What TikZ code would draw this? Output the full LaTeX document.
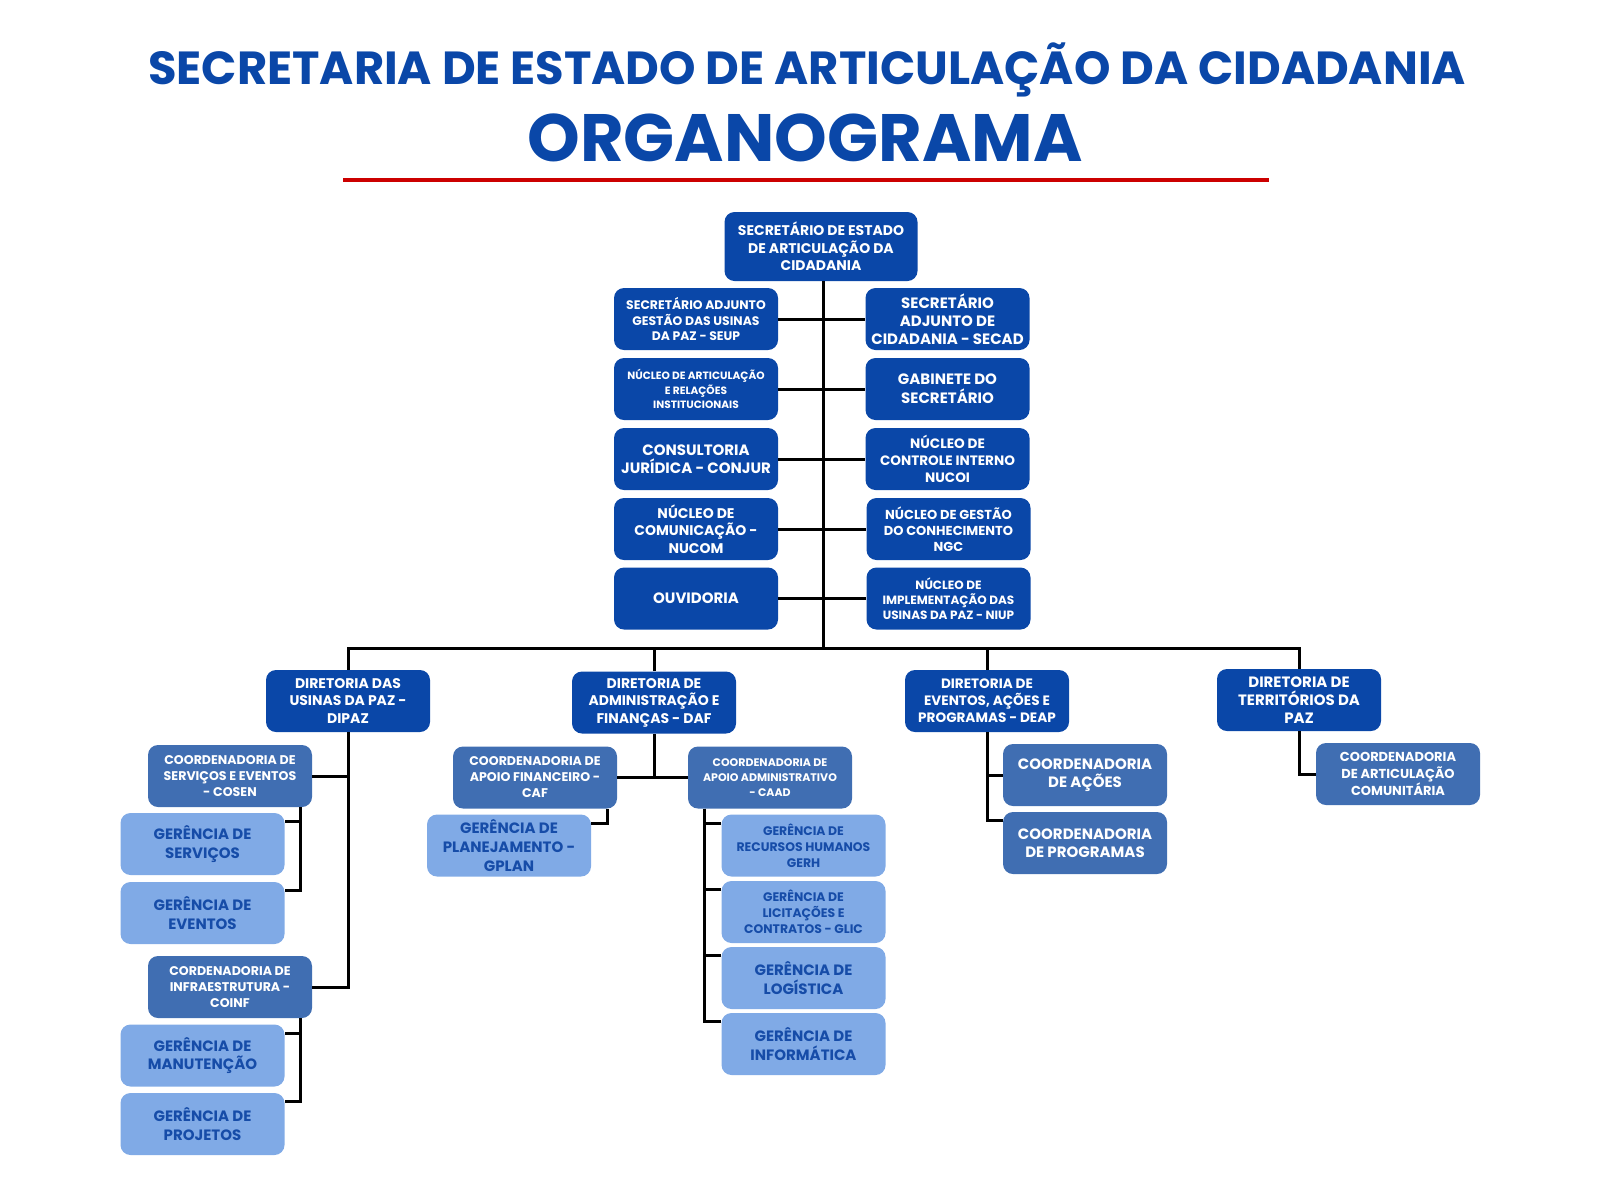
\documentclass[tikz,border=0pt]{standalone}
\usepackage{fontspec}
\setmainfont{Poppins}
\usepackage{tikz}
\definecolor{azulesc}{RGB}{10,71,168}
\definecolor{azulmed}{RGB}{64,110,178}
\definecolor{azulcla}{RGB}{128,170,230}
\definecolor{textocla}{RGB}{22,76,168}
\definecolor{vermelho}{RGB}{204,0,0}
\newcommand*{\fs}[2]{\fontsize{#1}{#2}\selectfont}

\begin{document}
\begin{tikzpicture}[x=0.5pt, y=-0.5pt,
    caixa/.style={rounded corners=5pt, minimum width=82pt, minimum height=31pt,
      inner sep=1pt, align=center, font=\bfseries\fs{7}{8.7}},
    dir/.style={caixa, fill=azulesc, text=white},
    coord/.style={caixa, fill=azulmed, text=white},
    ger/.style={caixa, fill=azulcla, text=textocla, font=\bfseries\fs{7.5}{9.3}},
    liga/.style={line width=1.5pt}]
  \useasboundingbox (0,0) rectangle (1600,1200);

  % titulo
  \node[text=azulesc, font=\bfseries\fs{23.2}{24}] (titulo) at (807,70)
    {SECRETARIA DE ESTADO DE ARTICULAÇÃO DA CIDADANIA};
  \node[text=azulesc, font=\bfseries\fs{33.5}{34}] (organo) at (805,138) {ORGANOGRAMA};
  \draw[vermelho, line width=2pt] (343,180) -- (1269,180);

  % secretario e orgaos de apoio
  \node[dir, minimum width=96.5pt, minimum height=34.5pt] (sec) at (821,246.5)
    {SECRETÁRIO DE ESTADO\\DE ARTICULAÇÃO DA\\CIDADANIA};

  \node[dir, font=\bfseries\fs{6.2}{7.9}] (seup) at (696,319)
    {SECRETÁRIO ADJUNTO\\GESTÃO DAS USINAS\\DA PAZ - SEUP};
  \node[dir, font=\bfseries\fs{7.5}{9}] (secad) at (947.5,319)
    {SECRETÁRIO\\ADJUNTO DE\\CIDADANIA - SECAD};
  \node[dir, font=\bfseries\fs{5.3}{7.2}] (nart) at (696,389)
    {NÚCLEO DE ARTICULAÇÃO\\E RELAÇÕES\\INSTITUCIONAIS};
  \node[dir, font=\bfseries\fs{7.5}{9.5}] (gab) at (947.5,389)
    {GABINETE DO\\SECRETÁRIO};
  \node[dir, font=\bfseries\fs{7.5}{9}] (conjur) at (696,459)
    {CONSULTORIA\\JURÍDICA - CONJUR};
  \node[dir, font=\bfseries\fs{6.8}{8.5}] (nucoi) at (947.5,459)
    {NÚCLEO DE\\CONTROLE INTERNO\\NUCOI};
  \node[dir] (nucom) at (696,529)
    {NÚCLEO DE\\COMUNICAÇÃO -\\NUCOM};
  \node[dir, font=\bfseries\fs{6.5}{8}] (ngc) at (948.5,529)
    {NÚCLEO DE GESTÃO\\DO CONHECIMENTO\\NGC};
  \node[dir, font=\bfseries\fs{7.5}{9}] (ouv) at (696,598.5) {OUVIDORIA};
  \node[dir, font=\bfseries\fs{6}{7.5}] (niup) at (948.5,598.5)
    {NÚCLEO DE\\IMPLEMENTAÇÃO DAS\\USINAS DA PAZ - NIUP};

  \coordinate (barra) at (823,648);
  \draw[liga] (barra |- sec.south) -- (barra);
  \foreach \a/\b in {seup/secad, nart/gab, conjur/nucoi, nucom/ngc, ouv/niup}
    \draw[liga] (\a) -- (\b);

  % diretorias
  \node[dir] (dipaz) at (348,701)
    {DIRETORIA DAS\\USINAS DA PAZ -\\DIPAZ};
  \node[dir] (daf) at (654,702.5)
    {DIRETORIA DE\\ADMINISTRAÇÃO E\\FINANÇAS - DAF};
  \node[dir, font=\bfseries\fs{6.8}{8.5}] (deap) at (987,701)
    {DIRETORIA DE\\EVENTOS, AÇÕES E\\PROGRAMAS - DEAP};
  \node[dir, font=\bfseries\fs{7.5}{9}] (dtp) at (1299,700)
    {DIRETORIA DE\\TERRITÓRIOS DA\\PAZ};
  \foreach \d in {dipaz, daf, deap, dtp}
    \draw[liga] (\d.north) |- (barra);

  % DIPAZ
  \node[coord, font=\bfseries\fs{6.3}{8}] (cosen) at (230,776)
    {COORDENADORIA DE\\SERVIÇOS E EVENTOS\\- COSEN};
  \node[ger] (gserv) at (202.5,844) {GERÊNCIA DE\\SERVIÇOS};
  \node[ger] (geven) at (202.5,913) {GERÊNCIA DE\\EVENTOS};
  \node[coord, font=\bfseries\fs{6.3}{8}] (coinf) at (230,987)
    {CORDENADORIA DE\\INFRAESTRUTURA -\\COINF};
  \node[ger] (gmanut) at (202.5,1055.5) {GERÊNCIA DE\\MANUTENÇÃO};
  \node[ger] (gproj) at (202.5,1124) {GERÊNCIA DE\\PROJETOS};

  \draw[liga] (dipaz.south) |- (coinf.east);
  \draw[liga] (cosen.east) -- (cosen.east -| dipaz.south);
  \foreach \g in {gserv, geven}
    \draw[liga] ([xshift=-6pt]cosen.south east) |- (\g.15);
  \foreach \g in {gmanut, gproj}
    \draw[liga] ([xshift=-6pt]coinf.south east) |- (\g.15);

  % DAF
  \node[coord, font=\bfseries\fs{6.3}{8}] (caf) at (535,777.5)
    {COORDENADORIA DE\\APOIO FINANCEIRO -\\CAF};
  \node[coord, font=\bfseries\fs{5.5}{7.5}] (caad) at (770,777.5)
    {COORDENADORIA DE\\APOIO ADMINISTRATIVO\\- CAAD};
  \node[ger] (gplan) at (509,845.5) {GERÊNCIA DE\\PLANEJAMENTO -\\GPLAN};
  \node[ger, font=\bfseries\fs{6.2}{8}] (gerh) at (803.5,845.5)
    {GERÊNCIA DE\\RECURSOS HUMANOS\\GERH};
  \node[ger, font=\bfseries\fs{6.2}{8}] (glic) at (803.5,912)
    {GERÊNCIA DE\\LICITAÇÕES E\\CONTRATOS - GLIC};
  \node[ger] (glog) at (803.5,978) {GERÊNCIA DE\\LOGÍSTICA};
  \node[ger] (ginfo) at (803.5,1044) {GERÊNCIA DE\\INFORMÁTICA};

  \draw[liga] (daf.south) -- (daf.south |- caf.east);
  \draw[liga] (caf) -- (caad);
  \draw[liga] ([xshift=-5pt]caf.south east) |- (gplan.15);
  \foreach \g in {gerh, glic, glog, ginfo}
    \draw[liga] ([xshift=8.5pt]caad.south west) |- (\g.165);

  % DEAP e DTP
  \node[coord, font=\bfseries\fs{7.5}{9.3}] (acoes) at (1085,775)
    {COORDENADORIA\\DE AÇÕES};
  \node[coord, font=\bfseries\fs{7.5}{9.3}] (cprog) at (1085,843)
    {COORDENADORIA\\DE PROGRAMAS};
  \node[coord, font=\bfseries\fs{6.5}{8.3}] (ccom) at (1398,774)
    {COORDENADORIA\\DE ARTICULAÇÃO\\COMUNITÁRIA};

  \draw[liga] (deap.south) |- (cprog.165);
  \draw[liga] (deap.south) |- (acoes.west);
  \draw[liga] (dtp.south) |- (ccom.west);
\end{tikzpicture}
\end{document}
